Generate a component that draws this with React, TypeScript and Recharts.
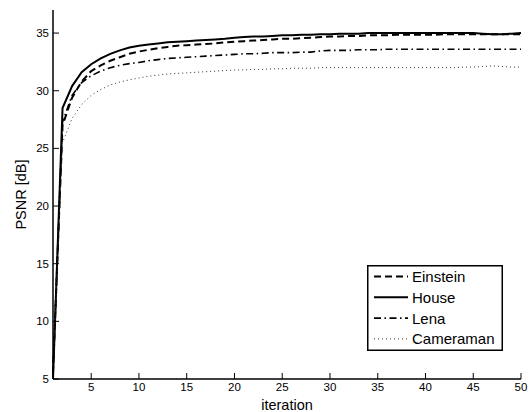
import { LineChart, Line, XAxis, YAxis, Legend } from "recharts";

const iterations = Array.from({ length: 50 }, (_, i) => i + 1);

const einstein = [
  5.5, 27.0, 29.4, 30.8, 31.7, 32.2, 32.6, 32.9, 33.2, 33.4,
  33.55, 33.7, 33.8, 33.9, 33.95, 34.0, 34.05, 34.1, 34.2, 34.25,
  34.3, 34.35, 34.4, 34.45, 34.5, 34.5, 34.55, 34.6, 34.65, 34.7,
  34.7, 34.75, 34.75, 34.8, 34.8, 34.8, 34.85, 34.85, 34.85, 34.85,
  34.85, 34.9, 34.9, 34.9, 34.9, 34.9, 34.9, 34.9, 34.9, 34.9,
];
const house = [
  5.0, 28.5, 30.4, 31.6, 32.3, 32.8, 33.2, 33.5, 33.75, 33.9,
  34.0, 34.1, 34.2, 34.25, 34.3, 34.35, 34.4, 34.45, 34.5, 34.6,
  34.65, 34.7, 34.7, 34.75, 34.8, 34.8, 34.85, 34.85, 34.9, 34.9,
  34.95, 34.95, 34.95, 35.0, 35.0, 35.0, 35.0, 35.0, 35.0, 35.0,
  35.0, 35.0, 35.0, 35.0, 35.0, 34.95, 34.9, 34.9, 34.95, 35.0,
];
const lena = [
  5.5, 27.3, 29.6, 30.7, 31.3, 31.7, 32.0, 32.2, 32.35, 32.45,
  32.6, 32.7, 32.8, 32.85, 32.9, 32.95, 33.0, 33.05, 33.1, 33.15,
  33.2, 33.2, 33.25, 33.3, 33.3, 33.3, 33.35, 33.35, 33.45, 33.5,
  33.5, 33.5, 33.55, 33.55, 33.55, 33.6, 33.6, 33.6, 33.6, 33.6,
  33.6, 33.6, 33.6, 33.6, 33.6, 33.6, 33.6, 33.6, 33.6, 33.6,
];
const cameraman = [
  6.0, 25.5, 27.6, 28.8, 29.6, 30.1, 30.5, 30.75, 30.95, 31.1,
  31.25, 31.35, 31.45, 31.5, 31.55, 31.6, 31.65, 31.7, 31.75, 31.8,
  31.8, 31.85, 31.85, 31.9, 31.9, 31.95, 31.95, 31.95, 32.0, 32.0,
  32.0, 32.0, 32.0, 32.0, 32.0, 32.0, 32.0, 32.0, 32.0, 32.0,
  32.0, 32.0, 32.0, 32.05, 32.05, 32.1, 32.15, 32.1, 32.05, 32.05,
];

const xTicks = [5, 10, 15, 20, 25, 30, 35, 40, 45, 50];
const yTicks = [5, 10, 15, 20, 25, 30, 35];

const data = iterations.map((it, i) => ({
  it,
  Einstein: einstein[i],
  House: house[i],
  Lena: lena[i],
  Cameraman: cameraman[i],
}));

const FONT = "'Liberation Sans', Arial, sans-serif";
const INK = "#000";

// series styling, also used by the legend (in this order)
const SERIES = [
  { key: "Einstein", width: 2, dash: "7 4", color: INK },
  { key: "House", width: 2, dash: undefined, color: INK },
  { key: "Lena", width: 1.6, dash: "7 3.5 1.5 3.5", color: INK },
  { key: "Cameraman", width: 1, dash: "1 3", color: "#333" },
];

const tickStyle = { fill: INK, fontSize: 11.5, fontFamily: FONT };
const axisLine = { stroke: INK, strokeWidth: 1.5 };

function YLabel(props: any) {
  const { y, height } = props.viewBox;
  const cx = 21;
  const cy = y + height / 2;
  return (
    <text
      x={cx}
      y={cy}
      transform={`rotate(-90, ${cx}, ${cy})`}
      textAnchor="middle"
      dominantBaseline="central"
      fontSize={14.5}
      fontFamily={FONT}
      fill={INK}
    >
      PSNR [dB]
    </text>
  );
}

function BoxLegend() {
  return (
    <svg width={136} height={86} style={{ display: "block" }}>
      <rect x={0.75} y={0.75} width={134.5} height={84.5} fill="#fff" stroke={INK} strokeWidth={1.5} />
      {SERIES.map((s, i) => {
        const ry = 11.5 + i * 20.8;
        return (
          <g key={s.key}>
            <line x1={7} x2={41} y1={ry} y2={ry} stroke={s.color} strokeWidth={s.width} strokeDasharray={s.dash} />
            <text x={45} y={ry} dominantBaseline="central" fontSize={15} fontFamily={FONT} fill={INK}>
              {s.key}
            </text>
          </g>
        );
      })}
    </svg>
  );
}

export default function App() {
  return (
    <div style={{ position: "absolute", left: 0, top: 0 }}>
      <LineChart
        width={529}
        height={412}
        data={data}
        margin={{ top: 10, right: 8, bottom: 0, left: 0 }}
        style={{ fontFamily: FONT }}
      >
        <XAxis
          xAxisId="b"
          dataKey="it"
          type="number"
          domain={[1, 50]}
          ticks={xTicks}
          tick={tickStyle}
          tickSize={-6}
          tickMargin={10}
          tickLine={{ stroke: INK }}
          axisLine={axisLine}
          height={33}
          label={{ value: "iteration", position: "insideBottom", offset: 2, fontSize: 14.5, fill: INK, fontFamily: FONT }}
        />
        <XAxis
          xAxisId="t"
          orientation="top"
          dataKey="it"
          type="number"
          domain={[1, 50]}
          ticks={xTicks}
          tick={false}
          tickSize={-6}
          tickLine={{ stroke: INK }}
          axisLine={axisLine}
          height={0}
        />
        <YAxis
          yAxisId="l"
          type="number"
          domain={[5, 37]}
          ticks={yTicks}
          tick={tickStyle}
          tickSize={-6}
          tickMargin={10}
          tickLine={{ stroke: INK }}
          axisLine={axisLine}
          width={53}
          label={{ content: YLabel }}
        />
        <YAxis
          yAxisId="r"
          orientation="right"
          type="number"
          domain={[5, 37]}
          ticks={yTicks}
          tick={false}
          tickSize={-6}
          tickLine={{ stroke: INK }}
          axisLine={axisLine}
          width={0}
        />
        <Legend
          layout="vertical"
          align="center"
          verticalAlign="middle"
          content={<BoxLegend />}
          wrapperStyle={{ left: 367, top: 265, width: 136, height: 86 }}
        />
        {SERIES.map((s) => (
          <Line
            key={s.key}
            xAxisId="b"
            yAxisId="l"
            dataKey={s.key}
            type="linear"
            stroke={s.color}
            strokeWidth={s.width}
            strokeDasharray={s.dash}
            dot={false}
            activeDot={false}
            isAnimationActive={false}
          />
        ))}
      </LineChart>
    </div>
  );
}
